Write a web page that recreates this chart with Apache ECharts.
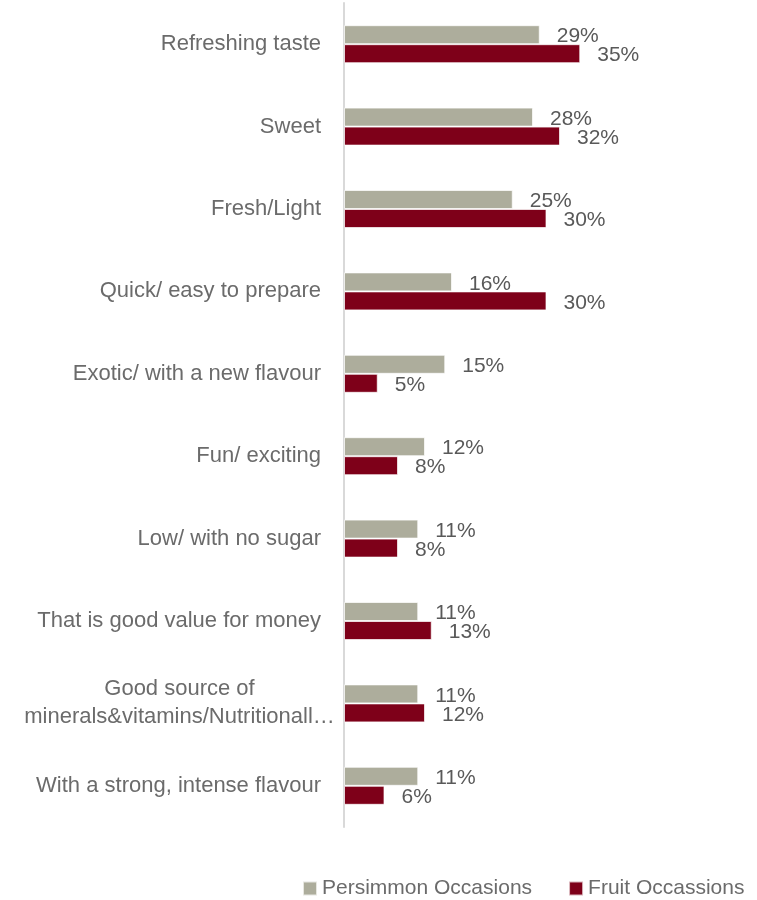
<!DOCTYPE html>
<html>
<head>
<meta charset="utf-8">
<script src="https://cdn.jsdelivr.net/npm/echarts@6/dist/echarts.min.js"></script>
<style>html,body{margin:0;padding:0;background:#fff}#c{width:757px;height:900px}</style>
</head>
<body>
<div id="c"></div>
<script>
const categories = ['Refreshing taste','Sweet','Fresh/Light','Quick/ easy to prepare','Exotic/ with a new flavour','Fun/ exciting','Low/ with no sugar','That is good value for money','Good source of\nminerals&vitamins/Nutritionall…','With a strong, intense flavour'];
const seriesNames = ['Persimmon Occasions','Fruit Occassions'];
const persimmon = [29,28,25,16,15,12,11,11,11,11];
const fruit = [35,32,30,30,5,8,8,13,12,6];

const FONT = '"Liberation Sans", Arial, sans-serif';
const CAT_SIZE = 22;
const ctx = document.createElement('canvas').getContext('2d');
ctx.font = CAT_SIZE + 'px ' + FONT;
const longW = Math.ceil(ctx.measureText('minerals&vitamins/Nutritionall…').width);

const chart = echarts.init(document.getElementById('c'));
const labelStyle = {
  show: true, position: 'right', distance: 17, offset: [0, 2],
  formatter: p => p.value + '%', fontFamily: FONT, fontSize: 21, color: '#595959'
};
chart.setOption({
  animation: false,
  textStyle: { fontFamily: FONT },
  grid: { left: 344, top: 3, bottom: 73, right: 143, containLabel: false },
  xAxis: { type: 'value', min: 0, max: 40, show: false },
  yAxis: {
    type: 'category', data: categories, inverse: true,
    axisLine: { show: true, lineStyle: { color: '#d9d9d9', width: 2 } },
    axisTick: { show: false },
    axisLabel: {
      margin: 9, fontSize: CAT_SIZE, color: '#6b6b6b', fontFamily: FONT,
      formatter: v => {
        if (v.indexOf('\n') >= 0) {
          return v.split('\n').map(s => '{c|' + s + '}').join('\n');
        }
        return '{n|' + v + '}';
      },
      rich: {
        n: { fontSize: CAT_SIZE, color: '#6b6b6b', fontFamily: FONT, padding: [0, 14, 0, 0] },
        c: { fontSize: CAT_SIZE, color: '#6b6b6b', fontFamily: FONT, width: longW, align: 'center', lineHeight: 28 }
      }
    }
  },
  legend: {
    left: 297, top: 873, itemWidth: 14, itemHeight: 14, itemGap: 36, icon: 'rect',
    textStyle: { fontSize: 21, color: '#6b6b6b', fontFamily: FONT },
    data: seriesNames
  },
  series: [
    { name: seriesNames[0], type: 'bar', data: persimmon, barWidth: 19, barGap: '0%',
      itemStyle: { color: '#adad9c', borderColor: 'rgba(255,255,255,0.7)', borderWidth: 1 }, label: labelStyle },
    { name: seriesNames[1], type: 'bar', data: fruit, barWidth: 19, barGap: '0%',
      itemStyle: { color: '#7e0019', borderColor: 'rgba(255,255,255,0.7)', borderWidth: 1 }, label: labelStyle }
  ]
});
</script>
</body>
</html>
